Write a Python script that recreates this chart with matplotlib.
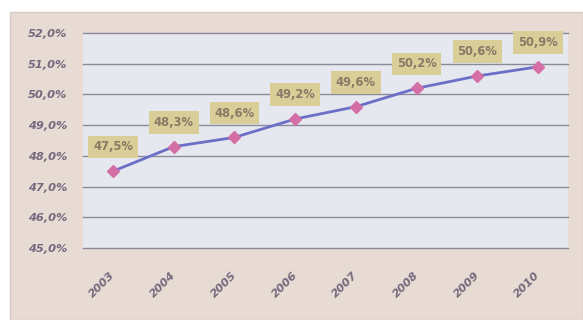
import matplotlib
matplotlib.use("Agg")
import matplotlib.pyplot as plt
import matplotlib.transforms as mtransforms
from matplotlib.patches import Rectangle

years = ["2003", "2004", "2005", "2006", "2007", "2008", "2009", "2010"]
values = [47.5, 48.3, 48.6, 49.2, 49.6, 50.2, 50.6, 50.9]
labels = ["47,5%", "48,3%", "48,6%", "49,2%", "49,6%", "50,2%", "50,6%", "50,9%"]
yticks = [45, 46, 47, 48, 49, 50, 51, 52]
ytick_labels = ["45,0%", "46,0%", "47,0%", "48,0%", "49,0%", "50,0%", "51,0%", "52,0%"]

fig = plt.figure(figsize=(5.83, 3.2), dpi=100)
fig.patch.set_facecolor("white")
# chart area background
bg = Rectangle((10 / 583, 0), 1 - 10 / 583, 1 - 12 / 320,
               transform=fig.transFigure, facecolor="#e8dbd3",
               edgecolor="#d6c9c3", linewidth=1, zorder=-10)
fig.add_artist(bg)

ax = fig.add_axes([82.6 / 583, 1 - 248 / 320, (568.4 - 82.6) / 583, (248 - 33) / 320])
ax.set_zorder(1)
ax.set_facecolor("#e6e8f0")
x = list(range(len(years)))
ax.plot(x, values, color="#6a70c6", linewidth=2.0, marker="D", markersize=6.5,
        markerfacecolor="#d46fa6", markeredgecolor="#d46fa6", zorder=3)

for xi, v, lab in zip(x, values, labels):
    ax.annotate(lab, (xi, v), xytext=(0, 17.5), textcoords="offset points",
                ha="center", va="center", fontsize=8.3, fontweight="bold",
                color="#8a7a66",
                bbox=dict(boxstyle="square,pad=0.42", facecolor="#d9cd98",
                          edgecolor="none"), zorder=4)

ax.set_xlim(-0.5, len(years) - 0.5)
ax.set_ylim(45, 52)
ax.set_yticks(yticks)
ax.set_yticklabels(ytick_labels)
ax.set_xticks(x)
ax.set_xticklabels(years, rotation=45, ha="right", va="top")
ax.yaxis.grid(True, color="#8a899a", linewidth=1)
for gl in ax.get_ygridlines():
    gl.set_clip_on(False)
ax.set_axisbelow(True)
for s in ax.spines.values():
    s.set_visible(False)
ax.tick_params(axis="both", length=0, labelsize=8.2, colors="#76697e")
ax.tick_params(axis="y", pad=11)
ax.tick_params(axis="x", pad=16)
offset = mtransforms.ScaledTranslation(4 / 100, 0, fig.dpi_scale_trans)
for t in ax.get_xticklabels():
    t.set_transform(t.get_transform() + offset)
for t in ax.get_xticklabels() + ax.get_yticklabels():
    t.set_fontweight("bold")
    t.set_fontstyle("italic")

fig.savefig("out.png", dpi=100, facecolor=fig.get_facecolor())
